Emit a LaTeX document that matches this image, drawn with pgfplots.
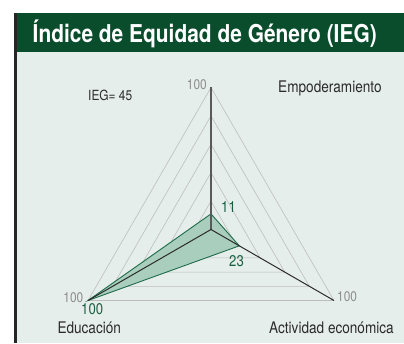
\documentclass[border=0pt]{standalone}
\usepackage{fontspec}
\setmainfont{TeX Gyre Heros}[FakeStretch=0.85]
\usepackage{pgfplots}
\pgfplotsset{compat=1.18}
\usepgfplotslibrary{polar}

\definecolor{titlegreen}{HTML}{0A4D2C}
\definecolor{panel}{HTML}{E6EEEB}
\definecolor{gridgray}{HTML}{BDBDBD}
\definecolor{edgegreen}{HTML}{1E6B4A}
\definecolor{fillgreen}{HTML}{A9CEBE}
\definecolor{valgreen}{HTML}{17603F}
\definecolor{labgray}{HTML}{8C8C8C}
\definecolor{textdark}{HTML}{2B2B2B}

\begin{document}
\begin{tikzpicture}[x=1pt,y=1pt]
\path[use as bounding box] (0,0) rectangle (404,343);
% panel and title bar
\fill[panel] (16,0) rectangle (404,291);
\fill[titlegreen] (16,291) rectangle (404,330);
\fill[black!85] (14,0) rectangle (16.7,330);
\node[anchor=base west, inner sep=0, text=white,
      font=\fontsize{24.6}{28}\selectfont\bfseries] at (32.5,300.5)
      {Índice de Equidad de Género (IEG)};
% centre label sits under the filled area
\node[anchor=base west, inner sep=0, text=labgray,
      font=\fontsize{14}{16}\selectfont] at (200,111) {0};

% explicit pt: inside the axis plain numbers would use the axis units
\begin{polaraxis}[
    at={(211pt,113.5pt)}, anchor=origin,
    width=284pt, height=284pt, scale only axis,
    xmin=0, xmax=360, ymin=0, ymax=100,
    hide axis, clip=false,
  ]
% grid triangles at 20, 40, ..., 100
\addplot[gridgray, line width=0.6pt, no markers] coordinates {(90,20)(210,20)(330,20)(90,20)};
\addplot[gridgray, line width=0.6pt, no markers] coordinates {(90,40)(210,40)(330,40)(90,40)};
\addplot[gridgray, line width=0.6pt, no markers] coordinates {(90,60)(210,60)(330,60)(90,60)};
\addplot[gridgray, line width=0.6pt, no markers] coordinates {(90,80)(210,80)(330,80)(90,80)};
\addplot[gridgray, line width=0.6pt, no markers] coordinates {(90,100)(210,100)(330,100)(90,100)};
% IEG values: Empoderamiento, Educacion, Actividad economica
\addplot[draw=edgegreen, fill=fillgreen, line width=0.9pt, no markers]
  coordinates {(90,11)(210,100)(330,23)(90,11)};
% spokes
\addplot[black!65, line width=1.3pt, no markers] coordinates {(90,0)(90,100)};
\addplot[textdark, line width=1pt, no markers] coordinates {(210,0)(210,100)};
\addplot[textdark, line width=1pt, no markers] coordinates {(330,0)(330,100)};
\end{polaraxis}

\begin{scope}[every node/.style={inner sep=0}]
\node[anchor=base west, text=textdark, font=\fontsize{16}{18}\selectfont] at (278,250.3) {Empoderamiento};
\node[anchor=base west, text=textdark, font=\fontsize{16}{18}\selectfont] at (57.3,10) {Educación};
\node[anchor=base west, text=textdark, font=\fontsize{16}{18}\selectfont] at (269,10) {Actividad económica};
\node[anchor=base west, text=textdark, font=\fontsize{14}{16}\selectfont] at (88,242) {IEG= 45};
\node[anchor=base east, text=labgray, font=\fontsize{14}{16}\selectfont] at (207,253) {100};
\node[anchor=base east, text=labgray, font=\fontsize{14}{16}\selectfont] at (83.5,41) {100};
\node[anchor=base west, text=labgray, font=\fontsize{14}{16}\selectfont] at (337,42) {100};
\node[anchor=base west, text=valgreen, font=\fontsize{15.5}{18}\selectfont] at (81,28.5) {100};
\node[anchor=base west, text=valgreen, font=\fontsize{15.5}{18}\selectfont] at (221,130.5) {11};
\node[anchor=base west, text=valgreen, font=\fontsize{15.5}{18}\selectfont] at (229,76.5) {23};
\end{scope}
\end{tikzpicture}
\end{document}
